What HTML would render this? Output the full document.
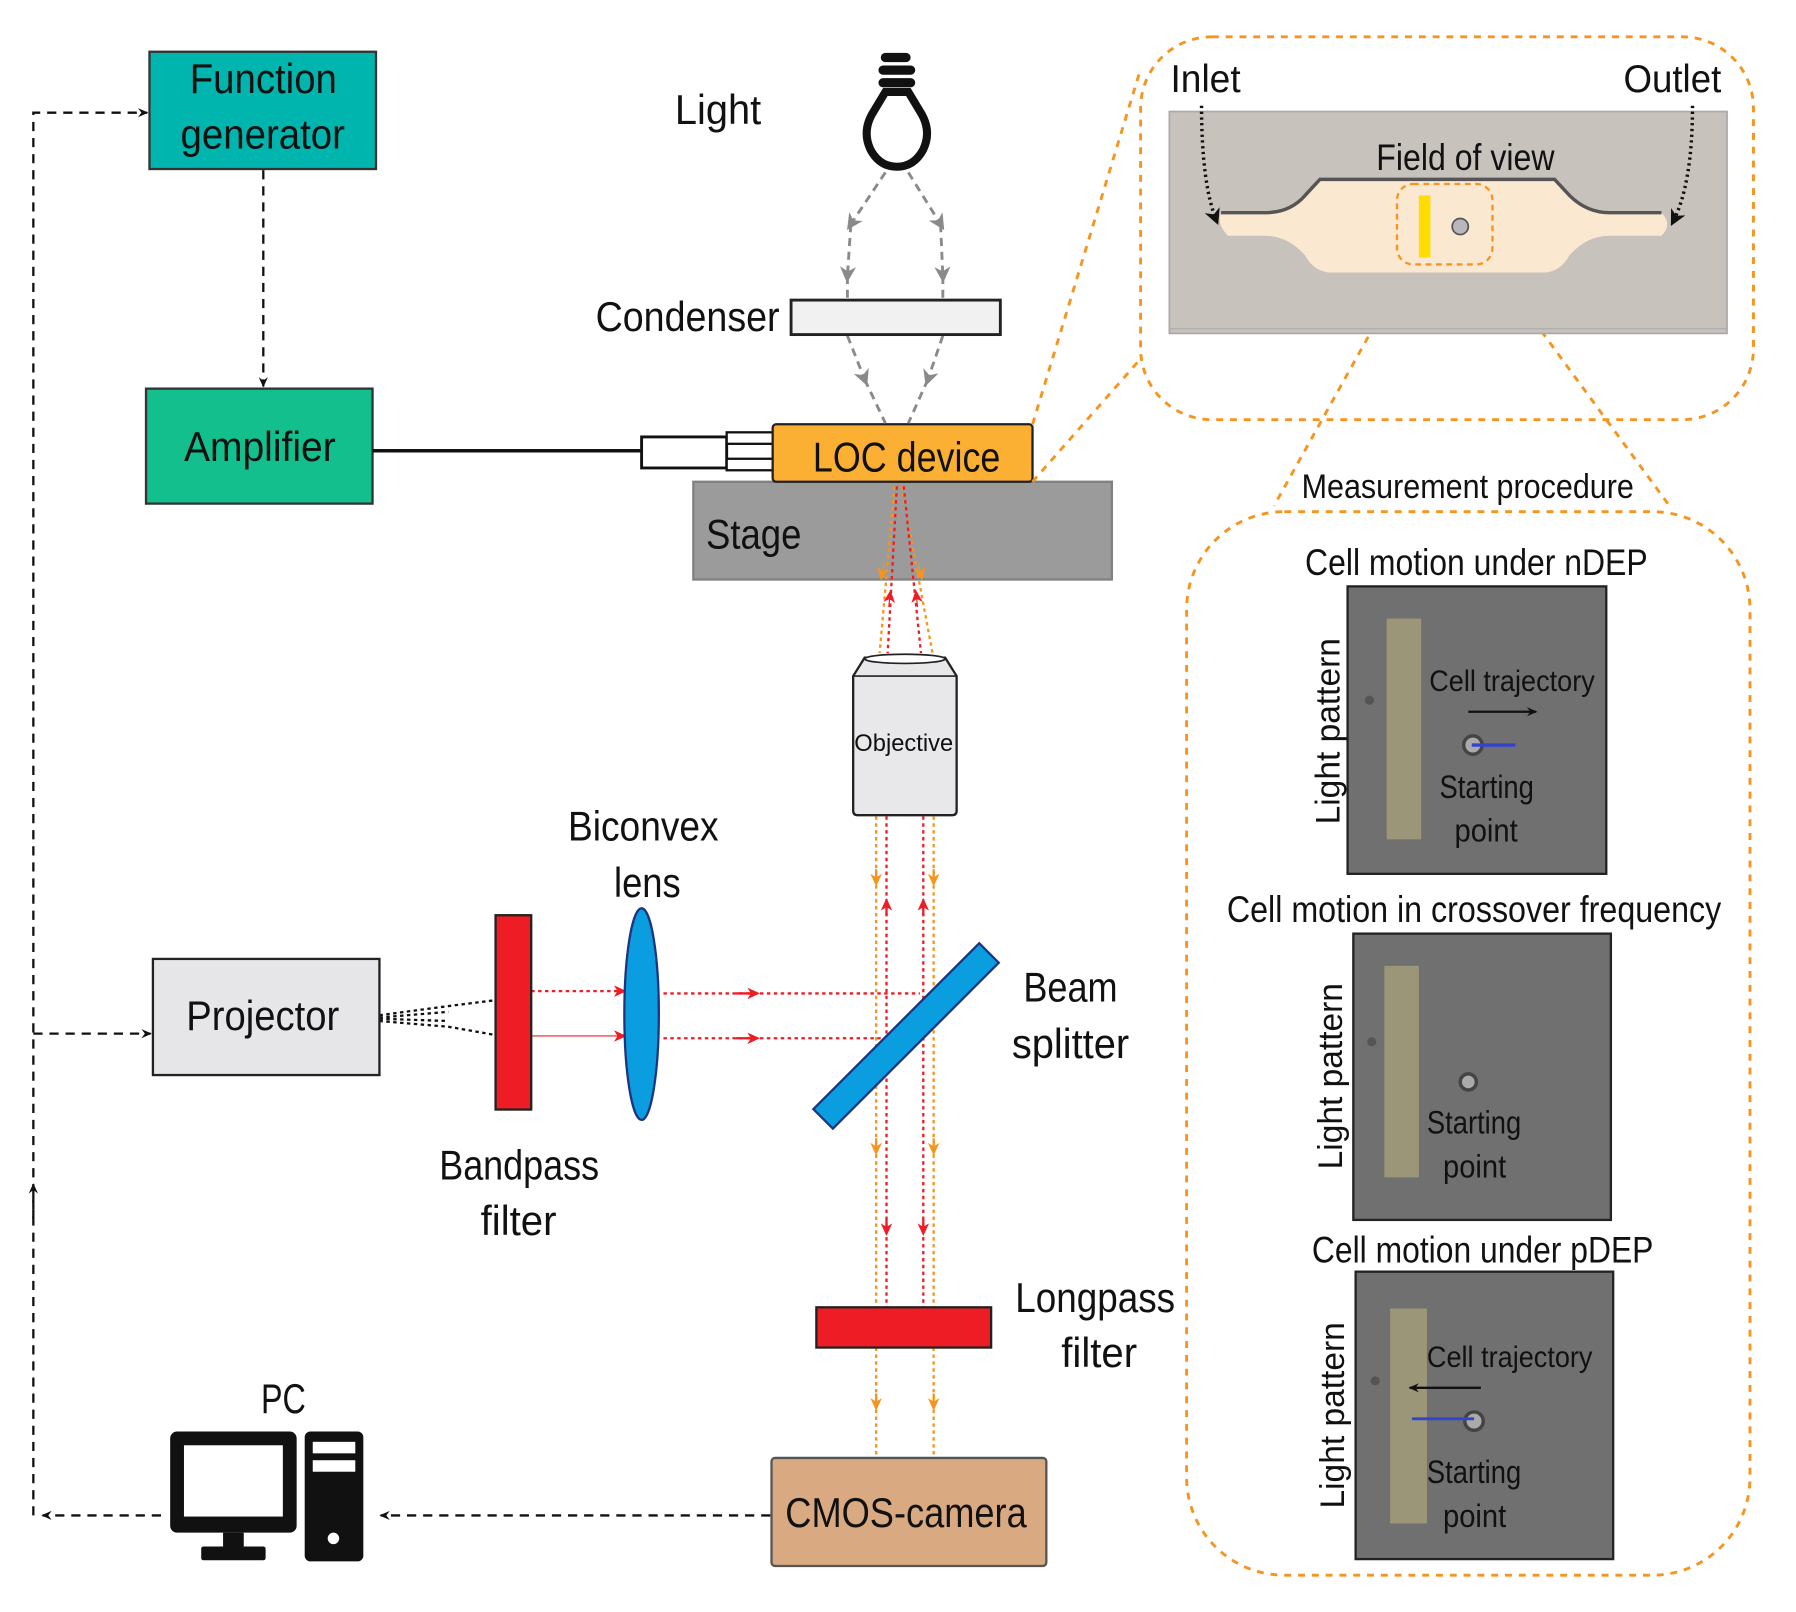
<!DOCTYPE html>
<html><head><meta charset="utf-8"><style>
html,body{margin:0;padding:0;background:#fff;}
svg{display:block;}
text{font-family:"Liberation Sans",sans-serif;fill:#111;}
</style></head><body>
<svg width="1796" height="1612" viewBox="0 0 1562 1402" preserveAspectRatio="none" xmlns="http://www.w3.org/2000/svg">
<defs>
<marker id="ak" markerWidth="10" markerHeight="10" refX="8" refY="5" orient="auto" markerUnits="userSpaceOnUse"><path d="M0,1 L9,5 L0,9 L3,5z" fill="#111"/></marker>
<marker id="ag" markerWidth="16" markerHeight="16" refX="8" refY="8" orient="auto" markerUnits="userSpaceOnUse"><path d="M0,1 L14,8 L0,15 L4,8z" fill="#8a8a8a"/></marker>
<marker id="ar" markerWidth="12" markerHeight="12" refX="6" refY="6" orient="auto" markerUnits="userSpaceOnUse"><path d="M0,1 L11,6 L0,11 L3,6z" fill="#ee1c24"/></marker>
<marker id="ao" markerWidth="12" markerHeight="12" refX="6" refY="6" orient="auto" markerUnits="userSpaceOnUse"><path d="M0,1 L11,6 L0,11 L3,6z" fill="#f7941d"/></marker>
<marker id="ab" markerWidth="16" markerHeight="16" refX="10" refY="8" orient="auto" markerUnits="userSpaceOnUse"><path d="M0,1 L14,8 L0,15 L4,8z" fill="#111"/></marker>
</defs>

<g stroke="#111" stroke-width="2" fill="none" stroke-dasharray="8,6">
<path d="M29,1318 V98 H128" marker-end="url(#ak)"/>
<path d="M29,899 H131" marker-end="url(#ak)"/>
<path d="M29,1060 V1030" marker-end="url(#ak)"/>
<path d="M229,148 V336" marker-end="url(#ak)"/>
<path d="M140,1318 H37" marker-end="url(#ak)"/>
<path d="M670,1318 H331" marker-end="url(#ak)"/>
</g>

<rect x="130" y="45" width="197" height="102" fill="#00b5ad" stroke="#333" stroke-width="2"/>
<text x="165" y="81" font-size="36" textLength="128" lengthAdjust="spacingAndGlyphs">Function</text>
<text x="157" y="129" font-size="36" textLength="143" lengthAdjust="spacingAndGlyphs">generator</text>
<rect x="127" y="338" width="197" height="100" fill="#13bf8c" stroke="#333" stroke-width="2"/>
<text x="160" y="401" font-size="36" textLength="132" lengthAdjust="spacingAndGlyphs">Amplifier</text>

<line x1="324" y1="392" x2="558" y2="392" stroke="#111" stroke-width="3"/>
<rect x="558" y="380" width="74" height="27" fill="#fff" stroke="#111" stroke-width="2.5"/>
<rect x="632" y="376" width="40" height="10" fill="#fff" stroke="#111" stroke-width="2"/>
<rect x="632" y="399" width="40" height="10" fill="#fff" stroke="#111" stroke-width="2"/>

<rect x="603" y="419" width="364" height="85" fill="#9b9b9b" stroke="#808080" stroke-width="2"/>
<text x="614" y="477" font-size="36" textLength="83" lengthAdjust="spacingAndGlyphs">Stage</text>
<rect x="672" y="369" width="226" height="50" rx="3" fill="#fbb034" stroke="#222" stroke-width="2"/>
<text x="707" y="410" font-size="36" textLength="163" lengthAdjust="spacingAndGlyphs">LOC device</text>

<text x="587" y="108" font-size="36" textLength="75" lengthAdjust="spacingAndGlyphs">Light</text>
<g fill="#111"><rect x="766" y="46" width="26" height="8" rx="4"/><rect x="764" y="57" width="32" height="8" rx="4"/><rect x="764" y="68" width="32" height="8" rx="4"/></g>
<path d="M770,80 H790 L802,100 Q810,115 803,130 Q795,145 780,145 Q765,145 757,130 Q750,115 758,100 Z" fill="none" stroke="#111" stroke-width="7"/>
<g stroke="#8a8a8a" stroke-width="2.5" fill="none" stroke-dasharray="7,5">
<path d="M770,150 L740,195" marker-end="url(#ag)"/><path d="M740,195 L737,240" marker-end="url(#ag)"/><path d="M737,240 V261"/>
<path d="M790,150 L818,195" marker-end="url(#ag)"/><path d="M818,195 L820,240" marker-end="url(#ag)"/><path d="M820,240 V261"/>
<path d="M737,292 L752,330" marker-end="url(#ag)"/><path d="M752,330 L770,368"/>
<path d="M820,292 L807,330" marker-end="url(#ag)"/><path d="M807,330 L790,368"/>
</g>
<rect x="688" y="261" width="182" height="30" fill="#f1f1f1" stroke="#222" stroke-width="2.5"/>
<text x="518" y="288" font-size="36" textLength="160" lengthAdjust="spacingAndGlyphs">Condenser</text>

<g fill="none" stroke-width="2" stroke-dasharray="3,3">
<path d="M778,423 L765,568" stroke="#f7941d"/><path d="M784,423 L811,568" stroke="#f7941d"/>
<path d="M780,423 L772,568" stroke="#ee1c24"/><path d="M786,423 L801,568" stroke="#ee1c24"/>
</g>
<path d="M769,490 L767,500" stroke="#f7941d" marker-end="url(#ao)"/>
<path d="M799,490 L801,500" stroke="#f7941d" marker-end="url(#ao)"/>
<path d="M773,528 L774,518" stroke="#ee1c24" marker-end="url(#ar)"/>
<path d="M798,528 L797,518" stroke="#ee1c24" marker-end="url(#ar)"/>

<path d="M742,588 L752,572 H822 L832,588 V705 Q832,709 828,709 H746 Q742,709 742,705 Z" fill="#e8e8ea" stroke="#222" stroke-width="2"/>
<ellipse cx="787" cy="573" rx="35" ry="4" fill="#fff" stroke="#222" stroke-width="1.5"/>
<line x1="742" y1="588" x2="832" y2="588" stroke="#222" stroke-width="1.5"/>
<text x="743" y="653" font-size="21" textLength="86" lengthAdjust="spacingAndGlyphs">Objective</text>

<g fill="none" stroke-width="2" stroke-dasharray="3,3">
<path d="M762,710 V1268" stroke="#f7941d"/><path d="M812,710 V1268" stroke="#f7941d"/>
<path d="M771,710 V1137" stroke="#ee1c24"/><path d="M803,710 V1137" stroke="#ee1c24"/>
</g>
<g stroke-width="2">
<path d="M762,756 V766" stroke="#f7941d" marker-end="url(#ao)"/><path d="M812,756 V766" stroke="#f7941d" marker-end="url(#ao)"/>
<path d="M762,990 V1000" stroke="#f7941d" marker-end="url(#ao)"/><path d="M812,990 V1000" stroke="#f7941d" marker-end="url(#ao)"/>
<path d="M762,1212 V1222" stroke="#f7941d" marker-end="url(#ao)"/><path d="M812,1212 V1222" stroke="#f7941d" marker-end="url(#ao)"/>
<path d="M771,796 V786" stroke="#ee1c24" marker-end="url(#ar)"/><path d="M803,796 V786" stroke="#ee1c24" marker-end="url(#ar)"/>
<path d="M771,1060 V1070" stroke="#ee1c24" marker-end="url(#ar)"/><path d="M803,1060 V1070" stroke="#ee1c24" marker-end="url(#ar)"/>
</g>

<g stroke="#ee1c24" fill="none" stroke-width="2">
<path d="M462,862 H540" stroke-dasharray="3,3" marker-end="url(#ar)"/>
<path d="M462,901 H540" stroke-width="1" marker-end="url(#ar)"/>
<path d="M577,864 H800" stroke-dasharray="3,3"/>
<path d="M577,903 H770" stroke-dasharray="3,3"/>
<path d="M640,864 H656" marker-end="url(#ar)"/><path d="M640,903 H656" marker-end="url(#ar)"/>
</g>
<g stroke="#111" stroke-width="2" fill="none" stroke-dasharray="3,3">
<path d="M330,883 L390,875 L430,870"/><path d="M330,888 L390,893 L430,900"/>
<path d="M330,885 L390,880"/><path d="M330,886 L390,888"/>
</g>

<rect x="133" y="834" width="197" height="101" fill="#e6e6e8" stroke="#222" stroke-width="2"/>
<text x="162" y="896" font-size="36" textLength="133" lengthAdjust="spacingAndGlyphs">Projector</text>
<rect x="431" y="796" width="31" height="169" fill="#ee1c24" stroke="#222" stroke-width="2"/>
<text x="382" y="1026" font-size="36" textLength="139" lengthAdjust="spacingAndGlyphs">Bandpass</text>
<text x="418" y="1074" font-size="36" textLength="66" lengthAdjust="spacingAndGlyphs">filter</text>
<ellipse cx="558" cy="882" rx="15" ry="92" fill="#0a9de0" stroke="#1d3580" stroke-width="2"/>
<text x="494" y="731" font-size="36" textLength="131" lengthAdjust="spacingAndGlyphs">Biconvex</text>
<text x="534" y="780" font-size="36" textLength="58" lengthAdjust="spacingAndGlyphs">lens</text>
<rect x="-102" y="-12" width="204" height="24" transform="translate(788,901) rotate(-45)" fill="#0a9de0" stroke="#1d3580" stroke-width="2"/>
<text x="890" y="871" font-size="36" textLength="82" lengthAdjust="spacingAndGlyphs">Beam</text>
<text x="880" y="920" font-size="36" textLength="102" lengthAdjust="spacingAndGlyphs">splitter</text>
<rect x="710" y="1137" width="152" height="35" fill="#ee1c24" stroke="#222" stroke-width="2"/>
<text x="883" y="1141" font-size="36" textLength="139" lengthAdjust="spacingAndGlyphs">Longpass</text>
<text x="923" y="1189" font-size="36" textLength="66" lengthAdjust="spacingAndGlyphs">filter</text>
<rect x="671" y="1268" width="239" height="94" rx="3" fill="#d9aa82" stroke="#555" stroke-width="2"/>
<text x="683" y="1328" font-size="36" textLength="210" lengthAdjust="spacingAndGlyphs">CMOS-camera</text>

<text x="227" y="1229" font-size="36" textLength="39" lengthAdjust="spacingAndGlyphs">PC</text>
<rect x="148" y="1245" width="110" height="88" rx="6" fill="#111"/>
<rect x="160" y="1257" width="86" height="62" fill="#fff"/>
<rect x="194" y="1333" width="18" height="14" fill="#111"/>
<rect x="175" y="1345" width="56" height="12" rx="2" fill="#111"/>
<rect x="265" y="1245" width="51" height="113" rx="5" fill="#111"/>
<rect x="272" y="1254" width="37" height="10" fill="#fff"/>
<rect x="272" y="1270" width="37" height="10" fill="#fff"/>
<circle cx="290" cy="1338" r="5" fill="#fff"/>

<g stroke="#f7941d" stroke-width="2.5" fill="none" stroke-dasharray="6,6">
<path d="M898,369 L992,60"/><path d="M898,419 L992,312"/>
<rect x="992" y="32" width="533" height="333" rx="62"/>
<path d="M1225,230 L1108,440"/><path d="M1298,230 L1452,440"/>
<rect x="1032" y="445" width="490" height="925" rx="85"/>
</g>

<rect x="1017" y="97" width="485" height="193" fill="#c8c2bd" stroke="#aaa" stroke-width="1.5"/>
<line x1="1017" y1="286" x2="1502" y2="286" stroke="#aaa" stroke-width="1"/>
<path d="M1062,185 H1100 Q1122,185 1135,170 L1148,156 H1352 L1365,170 Q1380,185 1400,185 H1445 Q1455,195 1445,205 H1400 Q1380,205 1365,222 Q1358,235 1345,237 H1155 Q1142,235 1135,222 Q1120,205 1100,205 H1068 Q1058,195 1062,185 Z" fill="#fbe8d0"/>
<path d="M1062,185 H1100 Q1122,185 1135,170 L1148,156 H1352 L1365,170 Q1380,185 1400,185 H1445" fill="none" stroke="#555" stroke-width="3"/>
<rect x="1215" y="160" width="83" height="70" rx="14" fill="none" stroke="#f7941d" stroke-width="2" stroke-dasharray="5,4"/>
<rect x="1234" y="170" width="10" height="54" fill="#ffdd00"/>
<circle cx="1270" cy="197" r="7" fill="#b8b8bc" stroke="#555" stroke-width="1.5"/>
<text x="1197" y="148" font-size="32" textLength="155" lengthAdjust="spacingAndGlyphs">Field of view</text>
<text x="1018" y="80" font-size="34" textLength="61" lengthAdjust="spacingAndGlyphs">Inlet</text>
<text x="1412" y="80" font-size="34" textLength="85" lengthAdjust="spacingAndGlyphs">Outlet</text>
<g stroke="#111" stroke-width="3" fill="none" stroke-dasharray="2,3">
<path d="M1045,92 Q1045,160 1058,192" marker-end="url(#ab)"/>
<path d="M1472,92 Q1472,160 1455,193" marker-end="url(#ab)"/>
</g>

<text x="1132" y="433" font-size="30" textLength="289" lengthAdjust="spacingAndGlyphs">Measurement procedure</text>

<text x="1135" y="500" font-size="32" textLength="298" lengthAdjust="spacingAndGlyphs">Cell motion under nDEP</text>
<rect x="1172" y="510" width="225" height="250" fill="#707070" stroke="#222" stroke-width="2"/>
<rect x="1206" y="538" width="30" height="192" fill="#9c9678"/>
<circle cx="1191" cy="609" r="4" fill="#555"/>
<text x="1243" y="601" font-size="26" textLength="144" lengthAdjust="spacingAndGlyphs">Cell trajectory</text>
<path d="M1277,619 H1336" stroke="#111" stroke-width="2" marker-end="url(#ak)"/>
<circle cx="1281" cy="648" r="8" fill="#aaa" stroke="#444" stroke-width="3"/>
<path d="M1280,648 H1318" stroke="#3344cc" stroke-width="3"/>
<text x="1252" y="694" font-size="28" textLength="82" lengthAdjust="spacingAndGlyphs">Starting</text>
<text x="1265" y="732" font-size="28" textLength="55" lengthAdjust="spacingAndGlyphs">point</text>
<text transform="translate(1165,717) rotate(-90)" font-size="30" textLength="162" lengthAdjust="spacingAndGlyphs">Light pattern</text>

<text x="1067" y="802" font-size="32" textLength="430" lengthAdjust="spacingAndGlyphs">Cell motion in crossover frequency</text>
<rect x="1177" y="812" width="224" height="249" fill="#707070" stroke="#222" stroke-width="2"/>
<rect x="1204" y="840" width="30" height="184" fill="#9c9678"/>
<circle cx="1193" cy="906" r="4" fill="#555"/>
<circle cx="1277" cy="941" r="7" fill="#aaa" stroke="#444" stroke-width="3"/>
<text x="1241" y="986" font-size="28" textLength="82" lengthAdjust="spacingAndGlyphs">Starting</text>
<text x="1255" y="1024" font-size="28" textLength="55" lengthAdjust="spacingAndGlyphs">point</text>
<text transform="translate(1167,1017) rotate(-90)" font-size="30" textLength="162" lengthAdjust="spacingAndGlyphs">Light pattern</text>

<text x="1141" y="1098" font-size="32" textLength="297" lengthAdjust="spacingAndGlyphs">Cell motion under pDEP</text>
<rect x="1179" y="1106" width="224" height="250" fill="#707070" stroke="#222" stroke-width="2"/>
<rect x="1209" y="1138" width="32" height="187" fill="#9c9678"/>
<circle cx="1196" cy="1201" r="4" fill="#555"/>
<text x="1241" y="1189" font-size="26" textLength="144" lengthAdjust="spacingAndGlyphs">Cell trajectory</text>
<path d="M1288,1207 H1226" stroke="#111" stroke-width="2" marker-end="url(#ak)"/>
<circle cx="1282" cy="1236" r="8" fill="#aaa" stroke="#444" stroke-width="3"/>
<path d="M1228,1234 H1282" stroke="#3344cc" stroke-width="2.5"/>
<text x="1241" y="1290" font-size="28" textLength="82" lengthAdjust="spacingAndGlyphs">Starting</text>
<text x="1255" y="1328" font-size="28" textLength="55" lengthAdjust="spacingAndGlyphs">point</text>
<text transform="translate(1169,1312) rotate(-90)" font-size="30" textLength="162" lengthAdjust="spacingAndGlyphs">Light pattern</text>
</svg>
</body></html>
